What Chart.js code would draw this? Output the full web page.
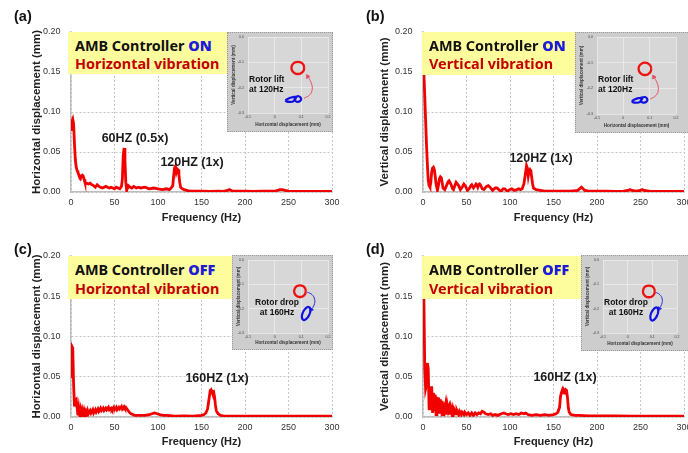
<!DOCTYPE html>
<html>
<head>
<meta charset="utf-8">
<script src="https://cdn.jsdelivr.net/npm/chart.js@4"></script>
<style>
body { margin: 0; background: #fff; }
#fig { position: relative; width: 688px; height: 453px; overflow: hidden; background: #fff; font-family: "Liberation Sans", Arial, sans-serif; }
#fig canvas, #fig div { position: absolute; }
.tag { font-weight: bold; font-size: 14.5px; color: #111; transform: translateY(-50%); }
.note { font-weight: bold; font-size: 12.5px; color: #1a1a1a; white-space: nowrap; transform: translate(-50%, -50%); }
.ybox { background: #fdfd9e; }
.ytxt { font-family: "Noto Sans", sans-serif; font-weight: bold; font-size: 14.4px; white-space: nowrap; transform: translateY(-50%); color: #111; }
.ytxt b { color: #1c1cd8; }
.ytxt.red { color: #c40000; }
.inset { background: #cdcdcd; border: 1px dotted #9a9a9a; box-sizing: border-box; }
.rotor { font-weight: bold; font-size: 8.5px; color: #111; white-space: nowrap; transform: translateY(-50%); }
.rotor.c { transform: translate(-50%, -50%); }
</style>
</head>
<body>
<div id="fig">
  <canvas id="ca"></canvas>
  <canvas id="cb"></canvas>
  <canvas id="cc"></canvas>
  <canvas id="cd"></canvas>

  <div class="ybox" style="left:68px;top:32px;width:159px;height:42px"></div>
  <div class="ybox" style="left:422px;top:32px;width:153px;height:43px"></div>
  <div class="ybox" style="left:68px;top:256px;width:164px;height:43px"></div>
  <div class="ybox" style="left:422px;top:256px;width:159px;height:43px"></div>

  <div class="ytxt" style="left:75px;top:45px">AMB Controller <b>ON</b></div>
  <div class="ytxt red" style="left:75px;top:63px">Horizontal vibration</div>
  <div class="ytxt" style="left:429px;top:45px">AMB Controller <b>ON</b></div>
  <div class="ytxt red" style="left:429px;top:63px">Vertical vibration</div>
  <div class="ytxt" style="left:75px;top:269px">AMB Controller <b>OFF</b></div>
  <div class="ytxt red" style="left:75px;top:288px">Horizontal vibration</div>
  <div class="ytxt" style="left:429px;top:269px">AMB Controller <b>OFF</b></div>
  <div class="ytxt red" style="left:429px;top:288px">Vertical vibration</div>

  <div class="inset" style="left:227px;top:32px;width:106px;height:100px"></div>
  <div class="inset" style="left:575px;top:32px;width:115px;height:101px"></div>
  <div class="inset" style="left:232px;top:255px;width:101px;height:95px"></div>
  <div class="inset" style="left:581px;top:255px;width:109px;height:96px"></div>
  <canvas id="ia"></canvas>
  <canvas id="ib"></canvas>
  <canvas id="ic"></canvas>
  <canvas id="id"></canvas>

  <div class="rotor" style="left:249px;top:79px">Rotor lift</div>
  <div class="rotor" style="left:249px;top:89px">at 120Hz</div>
  <div class="rotor" style="left:598px;top:79px">Rotor lift</div>
  <div class="rotor" style="left:598px;top:89px">at 120Hz</div>
  <div class="rotor c" style="left:277px;top:302px">Rotor drop</div>
  <div class="rotor c" style="left:277px;top:312px">at 160Hz</div>
  <div class="rotor c" style="left:626px;top:302px">Rotor drop</div>
  <div class="rotor c" style="left:626px;top:312px">at 160Hz</div>

  <div class="note" style="left:135px;top:138px">60HZ (0.5x)</div>
  <div class="note" style="left:192px;top:162px">120HZ (1x)</div>
  <div class="note" style="left:541px;top:158px">120HZ (1x)</div>
  <div class="note" style="left:217px;top:378px">160HZ (1x)</div>
  <div class="note" style="left:565px;top:377px">160HZ (1x)</div>

  <div class="tag" style="left:14px;top:16px">(a)</div>
  <div class="tag" style="left:366px;top:16px">(b)</div>
  <div class="tag" style="left:14px;top:249px">(c)</div>
  <div class="tag" style="left:366px;top:249px">(d)</div>
</div>

<script>
var freqTicks = [0, 50, 100, 150, 200, 250, 300];
var dispTicks = [0, 0.05, 0.10, 0.15, 0.20];
var orbitXTicks = [-0.1, 0, 0.1, 0.2];
var orbitYTicks = [0, -0.1, -0.2, -0.3];

// (a) AMB on, horizontal
var aFreq = [
  0, 1, 2, 3, 4, 5, 6, 7, 8, 9,
  10, 11, 12, 13, 14, 15, 16, 18, 20, 22,
  24, 26, 28, 30, 32, 34, 36, 38, 40, 42,
  44, 46, 48, 50, 52, 54, 56, 58, 59, 60,
  61, 62, 63, 64, 66, 68, 70, 72, 75, 78,
  80, 85, 90, 95, 100, 105, 110, 113, 115, 117,
  118, 119, 120, 121, 122, 123, 124, 125, 126, 128,
  130, 133, 136, 140, 150, 160, 170, 175, 180, 182,
  185, 190, 200, 210, 220, 230, 235, 240, 243, 246,
  250, 260, 270, 280, 290, 300];
var aDisp = [
  0.078, 0.088, 0.091, 0.085, 0.060, 0.040, 0.031, 0.027, 0.024, 0.022,
  0.019, 0.017, 0.020, 0.021, 0.020, 0.016, 0.012, 0.011, 0.010, 0.011,
  0.009, 0.008, 0.006, 0.009, 0.007, 0.006, 0.005, 0.006, 0.007, 0.006,
  0.005, 0.006, 0.005, 0.004, 0.006, 0.005, 0.004, 0.007, 0.015, 0.045,
  0.055, 0.040, 0.012, 0.002, 0.008, 0.006, 0.005, 0.007, 0.005, 0.006,
  0.005, 0.006, 0.004, 0.005, 0.004, 0.003, 0.004, 0.003, 0.005, 0.008,
  0.020, 0.030, 0.032, 0.025, 0.029, 0.028, 0.022, 0.012, 0.006, 0.004,
  0.003, 0.002, 0.001, 0.001, 0.001, 0.0008, 0.001, 0.0008, 0.002, 0.003,
  0.0015, 0.001, 0.001, 0.0008, 0.001, 0.001, 0.0012, 0.003, 0.003, 0.002,
  0.001, 0.0008, 0.0008, 0.0007, 0.0007, 0.0007];

// (b) AMB on, vertical
var bFreq = [
  0, 1, 2, 3, 4, 5, 6, 7, 8, 9,
  10, 11, 12, 13, 14, 15, 16, 17, 18, 19,
  20, 21, 22, 23, 25, 27, 29, 30, 32, 34,
  35, 37, 38, 39, 41, 43, 45, 47, 49, 51,
  53, 55, 56, 58, 60, 61, 62, 63, 64, 65,
  66, 68, 70, 73, 75, 77, 80, 83, 85, 88,
  90, 92, 94, 97, 100, 102, 105, 108, 110, 112,
  114, 116, 118, 119, 120, 121, 122, 123, 124, 125,
  126, 127, 130, 135, 140, 150, 160, 170, 178, 180,
  182, 184, 186, 190, 200, 210, 220, 230, 236, 238,
  240, 245, 250, 252, 254, 260, 270, 280, 290, 300];
var bDisp = [
  0.220, 0.150, 0.120, 0.090, 0.060, 0.035, 0.015, 0.008, 0.006, 0.012,
  0.025, 0.030, 0.031, 0.028, 0.020, 0.010, 0.005, 0.004, 0.010, 0.017,
  0.019, 0.018, 0.012, 0.005, 0.003, 0.008, 0.013, 0.014, 0.010, 0.004,
  0.003, 0.009, 0.012, 0.012, 0.008, 0.003, 0.006, 0.010, 0.007, 0.002,
  0.004, 0.008, 0.009, 0.005, 0.008, 0.010, 0.009, 0.006, 0.009, 0.010,
  0.009, 0.004, 0.003, 0.007, 0.008, 0.006, 0.002, 0.005, 0.005, 0.002,
  0.001, 0.004, 0.004, 0.001, 0.003, 0.004, 0.002, 0.003, 0.004, 0.003,
  0.004, 0.010, 0.025, 0.033, 0.030, 0.020, 0.026, 0.028, 0.026, 0.018,
  0.010, 0.005, 0.003, 0.002, 0.001, 0.001, 0.001, 0.001, 0.002, 0.004,
  0.006, 0.004, 0.002, 0.001, 0.001, 0.001, 0.0008, 0.001, 0.002, 0.003,
  0.002, 0.001, 0.002, 0.003, 0.002, 0.001, 0.0008, 0.0008, 0.0008, 0.0008];

// (c) AMB off, horizontal
var cFreq = [
  0, 1, 2, 3, 4, 5, 6, 7, 8, 9,
  10, 11, 12, 13, 14, 15, 16, 17, 18, 19,
  20, 22, 23, 25, 26, 28, 29, 31, 32, 34,
  35, 37, 38, 40, 41, 43, 44, 46, 47, 49,
  50, 52, 53, 55, 56, 58, 59, 61, 62, 63,
  65, 67, 69, 71, 73, 75, 80, 85, 90, 93,
  96, 99, 102, 106, 110, 120, 130, 140, 150, 153,
  155, 157, 159, 160, 161, 162, 163, 164, 165, 166,
  167, 169, 172, 175, 180, 190, 200, 220, 240, 260,
  280, 300];
var cDisp = [
  0.050, 0.088, 0.086, 0.040, 0.013, 0.021, 0.022, 0.012, 0.002, 0.011,
  0.003, 0.009, 0.002, 0.008, 0.003, 0.008, 0.003, 0.007, 0.004, 0.008,
  0.004, 0.008, 0.005, 0.009, 0.005, 0.009, 0.006, 0.010, 0.007, 0.011,
  0.008, 0.011, 0.008, 0.011, 0.009, 0.012, 0.009, 0.011, 0.009, 0.012,
  0.009, 0.012, 0.009, 0.012, 0.010, 0.013, 0.010, 0.013, 0.011, 0.012,
  0.009, 0.006, 0.004, 0.003, 0.002, 0.002, 0.002, 0.002, 0.003, 0.004,
  0.005, 0.004, 0.003, 0.002, 0.002, 0.001, 0.0015, 0.001, 0.002, 0.003,
  0.005, 0.010, 0.025, 0.033, 0.034, 0.031, 0.030, 0.031, 0.025, 0.015,
  0.008, 0.004, 0.002, 0.0015, 0.001, 0.001, 0.001, 0.001, 0.001, 0.001,
  0.001, 0.001];

// (d) AMB off, vertical
var dFreq = [
  0, 1, 2, 3, 4, 5, 6, 7, 8, 9,
  10, 11, 12, 13, 14, 15, 16, 17, 18, 19,
  20, 21, 22, 23, 24, 25, 26, 27, 28, 29,
  30, 31, 32, 33, 34, 35, 36, 38, 39, 41,
  42, 44, 45, 47, 48, 50, 52, 54, 56, 58,
  60, 62, 64, 66, 68, 70, 72, 75, 78, 80,
  83, 86, 90, 93, 95, 98, 101, 104, 107, 110,
  113, 116, 118, 121, 125, 130, 135, 140, 145, 150,
  153, 155, 157, 158, 159, 160, 161, 162, 163, 164,
  165, 166, 167, 168, 170, 175, 180, 190, 200, 220,
  240, 260, 280, 300];
var dDisp = [
  0.220, 0.150, 0.060, 0.035, 0.040, 0.067, 0.060, 0.010, 0.038, 0.030,
  0.038, 0.005, 0.030, 0.020, 0.028, 0.003, 0.025, 0.015, 0.024, 0.004,
  0.022, 0.012, 0.020, 0.003, 0.018, 0.010, 0.016, 0.003, 0.014, 0.008,
  0.012, 0.003, 0.011, 0.005, 0.010, 0.003, 0.009, 0.004, 0.008, 0.003,
  0.007, 0.003, 0.006, 0.003, 0.006, 0.003, 0.005, 0.002, 0.005, 0.002,
  0.005, 0.003, 0.005, 0.004, 0.007, 0.006, 0.004, 0.003, 0.004, 0.002,
  0.003, 0.002, 0.004, 0.005, 0.004, 0.003, 0.004, 0.003, 0.004, 0.003,
  0.005, 0.004, 0.005, 0.003, 0.002, 0.003, 0.002, 0.003, 0.002, 0.003,
  0.004, 0.006, 0.012, 0.025, 0.030, 0.033, 0.030, 0.033, 0.031, 0.034,
  0.033, 0.025, 0.012, 0.006, 0.003, 0.002, 0.002, 0.0015, 0.0015, 0.0013,
  0.0012, 0.0012, 0.0012, 0.0012];

// rotor orbits in the insets (mm)
var aRedX = [0.111, 0.108, 0.099, 0.087, 0.075, 0.066, 0.063, 0.066, 0.075, 0.087, 0.099, 0.108, 0.111];
var aRedY = [-0.122, -0.110, -0.101, -0.098, -0.101, -0.110, -0.122, -0.134, -0.143, -0.146, -0.143, -0.134, -0.122];
var aBlueX = [0.040, 0.052, 0.066, 0.078, 0.090, 0.099, 0.096, 0.084, 0.074, 0.080, 0.070, 0.056, 0.044, 0.040];
var aBlueY = [-0.250, -0.243, -0.238, -0.236, -0.234, -0.242, -0.252, -0.256, -0.248, -0.240, -0.254, -0.256, -0.254, -0.250];
var aArrowX = [0.110, 0.132, 0.141, 0.136, 0.124];
var aArrowY = [-0.242, -0.228, -0.205, -0.178, -0.156];

var bRedX = [0.106, 0.103, 0.094, 0.082, 0.070, 0.061, 0.058, 0.061, 0.070, 0.082, 0.094, 0.103, 0.106];
var bRedY = [-0.124, -0.112, -0.103, -0.100, -0.103, -0.112, -0.124, -0.136, -0.145, -0.148, -0.145, -0.136, -0.124];
var bBlueX = [0.032, 0.044, 0.058, 0.070, 0.082, 0.091, 0.088, 0.076, 0.066, 0.072, 0.062, 0.048, 0.036, 0.032];
var bBlueY = [-0.250, -0.243, -0.238, -0.236, -0.234, -0.242, -0.252, -0.256, -0.248, -0.240, -0.254, -0.256, -0.254, -0.250];
var bArrowX = [0.102, 0.124, 0.133, 0.128, 0.116];
var bArrowY = [-0.242, -0.228, -0.205, -0.178, -0.156];

var cRedX = [0.117, 0.114, 0.106, 0.095, 0.084, 0.076, 0.073, 0.076, 0.084, 0.095, 0.106, 0.114, 0.117];
var cRedY = [-0.128, -0.116, -0.107, -0.104, -0.107, -0.116, -0.128, -0.140, -0.149, -0.152, -0.149, -0.140, -0.128];
var cBlueX = [0.132, 0.134, 0.130, 0.122, 0.112, 0.104, 0.102, 0.106, 0.114, 0.124, 0.132];
var cBlueY = [-0.220, -0.205, -0.195, -0.194, -0.204, -0.220, -0.236, -0.245, -0.246, -0.236, -0.220];
var cArrowX = [0.122, 0.140, 0.150, 0.148, 0.137];
var cArrowY = [-0.132, -0.142, -0.162, -0.185, -0.204];

var dRedX = [0.110, 0.107, 0.099, 0.086, 0.073, 0.065, 0.062, 0.065, 0.073, 0.086, 0.099, 0.107, 0.110];
var dRedY = [-0.129, -0.117, -0.108, -0.105, -0.108, -0.117, -0.129, -0.141, -0.150, -0.153, -0.150, -0.141, -0.129];
var dBlueX = [0.122, 0.124, 0.120, 0.112, 0.102, 0.094, 0.092, 0.096, 0.104, 0.114, 0.122];
var dBlueY = [-0.222, -0.207, -0.197, -0.196, -0.206, -0.222, -0.238, -0.247, -0.248, -0.238, -0.222];
var dArrowX = [0.112, 0.130, 0.140, 0.138, 0.128];
var dArrowY = [-0.132, -0.142, -0.160, -0.182, -0.200];

Chart.defaults.font.family = '"Liberation Sans", Arial, sans-serif';
Chart.defaults.color = '#333';

function zip(xs, ys) {
  return xs.map(function (x, i) { return {x: x, y: ys[i]}; });
}

function place(id, box) {
  var cv = document.getElementById(id);
  cv.width = box[2];
  cv.height = box[3];
  cv.style.left = box[0] + 'px';
  cv.style.top = box[1] + 'px';
  return cv;
}

// box = canvas [left, top, w, h]; area = plot [left, top, right, bottom], page px
function spectrum(id, freq, disp, yTitle, box, area, yTitleX, xTitleY) {
  var cv = place(id, box);
  var yw = area[0] - box[0];
  var xh = box[1] + box[3] - area[3];
  var xFont = {size: 11, weight: 'bold'};
  var yFont = {size: 11.5, weight: 'bold'};
  return new Chart(cv.getContext('2d'), {
    type: 'line',
    data: {
      datasets: [{
        data: zip(freq, disp),
        borderColor: '#f20000',
        borderWidth: 2.8,
        pointRadius: 0,
        tension: 0,
        fill: false
      }]
    },
    options: {
      responsive: false,
      animation: false,
      devicePixelRatio: 1,
      layout: {padding: {left: 0, top: area[1] - box[1], right: box[0] + box[2] - area[2], bottom: 0}},
      plugins: {legend: {display: false}, tooltip: {enabled: false}},
      scales: {
        x: {
          type: 'linear', min: 0, max: 300,
          afterBuildTicks: function (s) { s.ticks = freqTicks.map(function (v) { return {value: v}; }); },
          afterFit: function (s) { s.height = xh; s.paddingLeft = 0; s.paddingRight = 0; },
          ticks: {autoSkip: false, maxRotation: 0, padding: 5, color: '#333', font: {size: 9}},
          grid: {color: '#c6c6c6', drawTicks: false},
          border: {color: '#bdbdbd', width: 1.5, dash: [2, 2]},
          title: {display: true, text: 'Frequency (Hz)', color: '#222', font: xFont,
                  padding: {top: 0, bottom: box[1] + box[3] - xTitleY - 6.6}}
        },
        y: {
          min: 0, max: 0.2,
          afterBuildTicks: function (s) { s.ticks = dispTicks.map(function (v) { return {value: v}; }); },
          afterFit: function (s) { s.width = yw; s.paddingTop = 0; s.paddingBottom = 0; },
          ticks: {autoSkip: false, padding: 10.5, color: '#333', font: {size: 9},
                  callback: function (v) { return v.toFixed(2); }},
          grid: {color: '#c6c6c6', drawTicks: false},
          border: {color: '#bdbdbd', width: 1.5, dash: [2, 2]},
          title: {display: true, text: yTitle, color: '#222', font: yFont,
                  padding: {top: yTitleX - box[0] - 6.9, bottom: 0}}
        }
      }
    }
  });
}

var areaBg = {
  id: 'areaBg',
  beforeDraw: function (chart, args, opts) {
    var a = chart.chartArea;
    chart.ctx.save();
    chart.ctx.fillStyle = opts.color;
    chart.ctx.fillRect(a.left, a.top, a.right - a.left, a.bottom - a.top);
    chart.ctx.restore();
  }
};

function arrowAngle(ctx) {
  var d = ctx.dataset.data, i = ctx.dataIndex;
  if (i < 1) return 0;
  var sx = ctx.chart.scales.x, sy = ctx.chart.scales.y;
  var dx = sx.getPixelForValue(d[i].x) - sx.getPixelForValue(d[i - 1].x);
  var dy = sy.getPixelForValue(d[i].y) - sy.getPixelForValue(d[i - 1].y);
  return Math.atan2(dx, -dy) * 180 / Math.PI;
}

function orbit(id, box, area, red, blue, arrow, arrowColor) {
  var cv = place(id, box);
  var yw = area[0] - box[0];
  var xh = box[1] + box[3] - area[3];
  var tiny = {size: 3.6};
  var small = {size: 4.6, weight: 'bold'};
  var n = arrow.length;
  return new Chart(cv.getContext('2d'), {
    type: 'scatter',
    data: {
      datasets: [
        {data: red, showLine: true, borderColor: '#ee1111', borderWidth: 2.3, pointRadius: 0, tension: 0.4},
        {data: blue, showLine: true, borderColor: '#1010e0', borderWidth: 2.2, pointRadius: 0, tension: 0.4},
        {data: arrow, showLine: true, borderColor: arrowColor, backgroundColor: arrowColor, borderWidth: 1,
         tension: 0.4, pointStyle: 'triangle', rotation: arrowAngle,
         pointRadius: function (ctx) { return ctx.dataIndex === n - 1 ? 2.2 : 0; }}
      ]
    },
    options: {
      responsive: false,
      animation: false,
      devicePixelRatio: 1,
      layout: {padding: {left: 0, top: area[1] - box[1], right: box[0] + box[2] - area[2], bottom: 0}},
      plugins: {legend: {display: false}, tooltip: {enabled: false}, areaBg: {color: '#d7d7d7'}},
      scales: {
        x: {
          type: 'linear', min: -0.1, max: 0.2,
          afterBuildTicks: function (s) { s.ticks = orbitXTicks.map(function (v) { return {value: v}; }); },
          afterFit: function (s) { s.height = xh; s.paddingLeft = 0; s.paddingRight = 0; },
          ticks: {autoSkip: false, maxRotation: 0, padding: 2, color: '#444', font: tiny,
                  callback: function (v) { return v === 0 ? '0' : v.toFixed(1); }},
          grid: {color: '#ececec', lineWidth: 0.8, drawTicks: false},
          border: {display: false},
          title: {display: true, text: 'Horizontal displacement (mm)', color: '#333', font: small,
                  padding: {top: 0, bottom: 5}}
        },
        y: {
          min: -0.3, max: 0,
          afterBuildTicks: function (s) { s.ticks = orbitYTicks.map(function (v) { return {value: v}; }); },
          afterFit: function (s) { s.width = yw; s.paddingTop = 0; s.paddingBottom = 0; },
          ticks: {autoSkip: false, padding: 4, color: '#444', font: tiny,
                  callback: function (v) { return v.toFixed(1); }},
          grid: {color: '#ececec', lineWidth: 0.8, drawTicks: false},
          border: {display: false},
          title: {display: true, text: 'Vertical displacement (mm)', color: '#333', font: small,
                  padding: {top: 4, bottom: 0}}
        }
      }
    },
    plugins: [areaBg]
  });
}

spectrum('ca', aFreq, aDisp, 'Horizontal displacement (mm)', [0, 0, 344, 226], [71, 32, 332, 192], 37, 218);
spectrum('cb', bFreq, bDisp, 'Vertical displacement (mm)', [344, 0, 344, 226], [423, 32, 684, 192], 384.7, 218);
spectrum('cc', cFreq, cDisp, 'Horizontal displacement (mm)', [0, 226, 344, 227], [71, 256, 332, 417], 36.7, 442);
spectrum('cd', dFreq, dDisp, 'Vertical displacement (mm)', [344, 226, 344, 227], [423, 256, 684, 417], 384.7, 442);

orbit('ia', [227, 32, 106, 100], [248, 37, 328, 113],
  zip(aRedX, aRedY), zip(aBlueX, aBlueY), zip(aArrowX, aArrowY), '#e8506a');
orbit('ib', [575, 32, 113, 101], [597, 36, 676, 114],
  zip(bRedX, bRedY), zip(bBlueX, bBlueY), zip(bArrowX, bArrowY), '#e8506a');
orbit('ic', [232, 255, 101, 95], [248, 260, 328, 333],
  zip(cRedX, cRedY), zip(cBlueX, cBlueY), zip(cArrowX, cArrowY), '#2a2ae0');
orbit('id', [581, 255, 107, 96], [603, 260, 677, 333],
  zip(dRedX, dRedY), zip(dBlueX, dBlueY), zip(dArrowX, dArrowY), '#2a2ae0');
</script>
</body>
</html>
